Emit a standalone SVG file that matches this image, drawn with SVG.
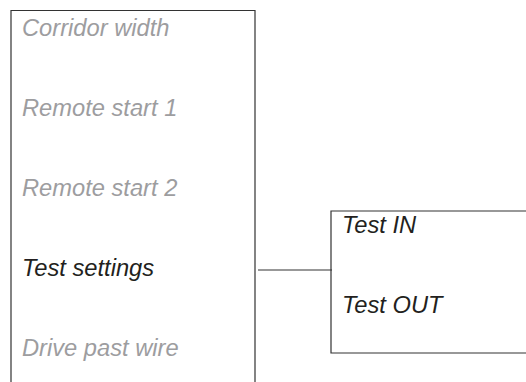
<svg xmlns="http://www.w3.org/2000/svg" width="526" height="382" viewBox="0 0 526 382">
<style>
.box{fill:none;stroke:#333;stroke-width:1.2}
.t{font-family:"Liberation Sans",Arial,sans-serif;font-style:italic;font-size:23.7px}
.g{fill:#9d9d9f}
.k{fill:#231f20}
</style>
<rect width="526" height="382" fill="#fff"/>
<g id="menu">
<path class="box" d="M11,382 V10.5 H255 V382"/>
<text class="t g" x="22" y="36">Corridor width</text>
<text class="t g" x="22" y="116">Remote start 1</text>
<text class="t g" x="22" y="196">Remote start 2</text>
<text class="t k" x="22" y="276">Test settings</text>
<text class="t g" x="22" y="356">Drive past wire</text>
</g>
<g id="submenu">
<path class="box" d="M527,211 H331 V353 H527"/>
<text class="t k" x="342" y="233">Test IN</text>
<text class="t k" x="342" y="313">Test OUT</text>
</g>
<g id="connectors">
<line class="box" x1="258" y1="270" x2="332" y2="270"/>
</g>
</svg>
